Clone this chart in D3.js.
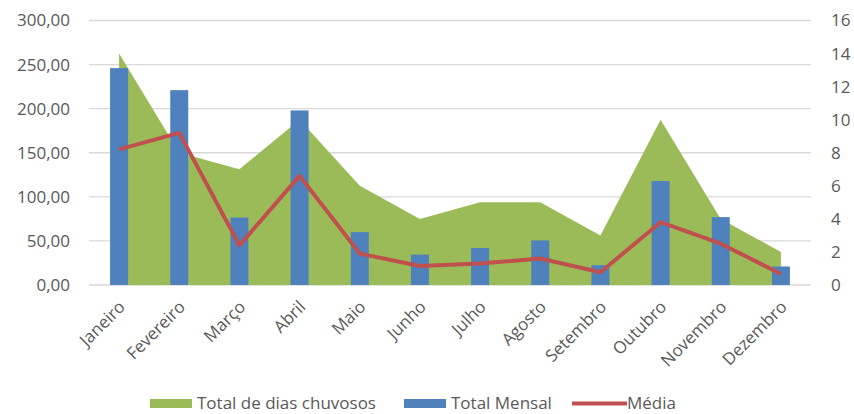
<!DOCTYPE html>
<html><head><meta charset="utf-8">
<script src="https://cdn.jsdelivr.net/npm/d3@7"></script>
<style>body{margin:0;background:#fff}svg{display:block}text{font-family:"Open Sans",sans-serif;fill:#595959}</style>
</head><body><svg id="c" width="854" height="414"></svg>
<script>
const months = ["Janeiro","Fevereiro","Março","Abril","Maio","Junho","Julho","Agosto","Setembro","Outubro","Novembro","Dezembro"];
const diasChuvosos = [14, 8, 7, 10, 6, 4, 5, 5, 3, 10, 4, 2];
const totalMensal = [246, 221, 76.5, 198, 60, 34.5, 42, 50.5, 22.5, 118, 77, 21];
const media = [8.2, 9.2, 2.4, 6.6, 1.9, 1.15, 1.3, 1.6, 0.77, 3.8, 2.5, 0.67];
const leftTicks = [0, 50, 100, 150, 200, 250, 300];
const rightTicks = [0, 2, 4, 6, 8, 10, 12, 14, 16];
const legendItems = ["Total de dias chuvosos", "Total Mensal", "Média"];
const colors = {green:"#9BBB59", blue:"#4F81BD", red:"#C0504D", grid:"#D9D9D9"};

const svg = d3.select("#c");
const L = 89, R = 811, T = 20.5, B = 285;
const x = d3.scaleBand().domain(months).range([L, R]);
const yL = d3.scaleLinear().domain([0, 300]).range([B, T]);
const yR = d3.scaleLinear().domain([0, 16]).range([B, T]);
const cx = m => x(m) + x.bandwidth() / 2;

// grid
svg.append("g").selectAll("line").data(leftTicks).join("line")
  .attr("x1", L).attr("x2", R).attr("y1", d => yL(d)).attr("y2", d => yL(d))
  .attr("stroke", colors.grid).attr("stroke-width", 1.3);

// area
const area = d3.area().x((d, i) => cx(months[i])).y0(yR(0)).y1(d => yR(d));
svg.append("path").datum(diasChuvosos).attr("d", area).attr("fill", colors.green);

// bars
const bw = 18;
svg.append("g").selectAll("rect").data(totalMensal).join("rect")
  .attr("x", (d, i) => cx(months[i]) - bw / 2).attr("width", bw)
  .attr("y", d => yL(d)).attr("height", d => yL(0) - yL(d)).attr("fill", colors.blue);

// line
const line = d3.line().x((d, i) => cx(months[i])).y(d => yR(d));
svg.append("path").datum(media).attr("d", line).attr("fill", "none")
  .attr("stroke", colors.red).attr("stroke-width", 4).attr("stroke-linejoin", "round");

// left axis
const fmt = d => d3.format(".2f")(d).replace(".", ",");
const axL = d3.axisLeft(yL).tickValues(leftTicks).tickFormat(fmt).tickSize(0).tickPadding(0);
const gL = svg.append("g").attr("transform", "translate(70,0)").call(axL);
gL.select(".domain").remove();
gL.selectAll("text").style("font-size", "17px").style("fill", "#595959").style("font-family", "'Open Sans',sans-serif");

const axR = d3.axisRight(yR).tickValues(rightTicks).tickSize(0).tickPadding(0);
const gR = svg.append("g").attr("transform", "translate(831,0)").call(axR);
gR.select(".domain").remove();
gR.selectAll("text").style("font-size", "17px").style("fill", "#595959").style("font-family", "'Open Sans',sans-serif");

// x labels
const axX = d3.axisBottom(x).tickSize(0).tickPadding(0);
const gX = svg.append("g").attr("transform", `translate(0,${B})`).call(axX);
gX.select(".domain").remove();
gX.selectAll("text").style("font-size", "17px").style("fill", "#595959").style("font-family", "'Open Sans',sans-serif")
  .attr("text-anchor", "end").attr("dy", 0).attr("y", 0)
  .attr("transform", "translate(7,23) rotate(-45)");

// legend
const lg = svg.append("g").attr("transform", "translate(0,403)");
const lx = [150, 404, 572];
legendItems.forEach((t, i) => {
  if (i < 2) lg.append("rect").attr("x", lx[i]).attr("y", -4).attr("width", 42).attr("height", 9).attr("fill", i === 0 ? colors.green : colors.blue);
  else lg.append("line").attr("x1", lx[i]).attr("x2", lx[i] + 55).attr("y1", 0.5).attr("y2", 0.5).attr("stroke", colors.red).attr("stroke-width", 4);
  lg.append("text").attr("x", lx[i] + (i < 2 ? 47 : 55)).attr("y", 0).attr("dy", "0.35em")
    .style("font-size", "17px").text(t);
});
</script></body></html>
